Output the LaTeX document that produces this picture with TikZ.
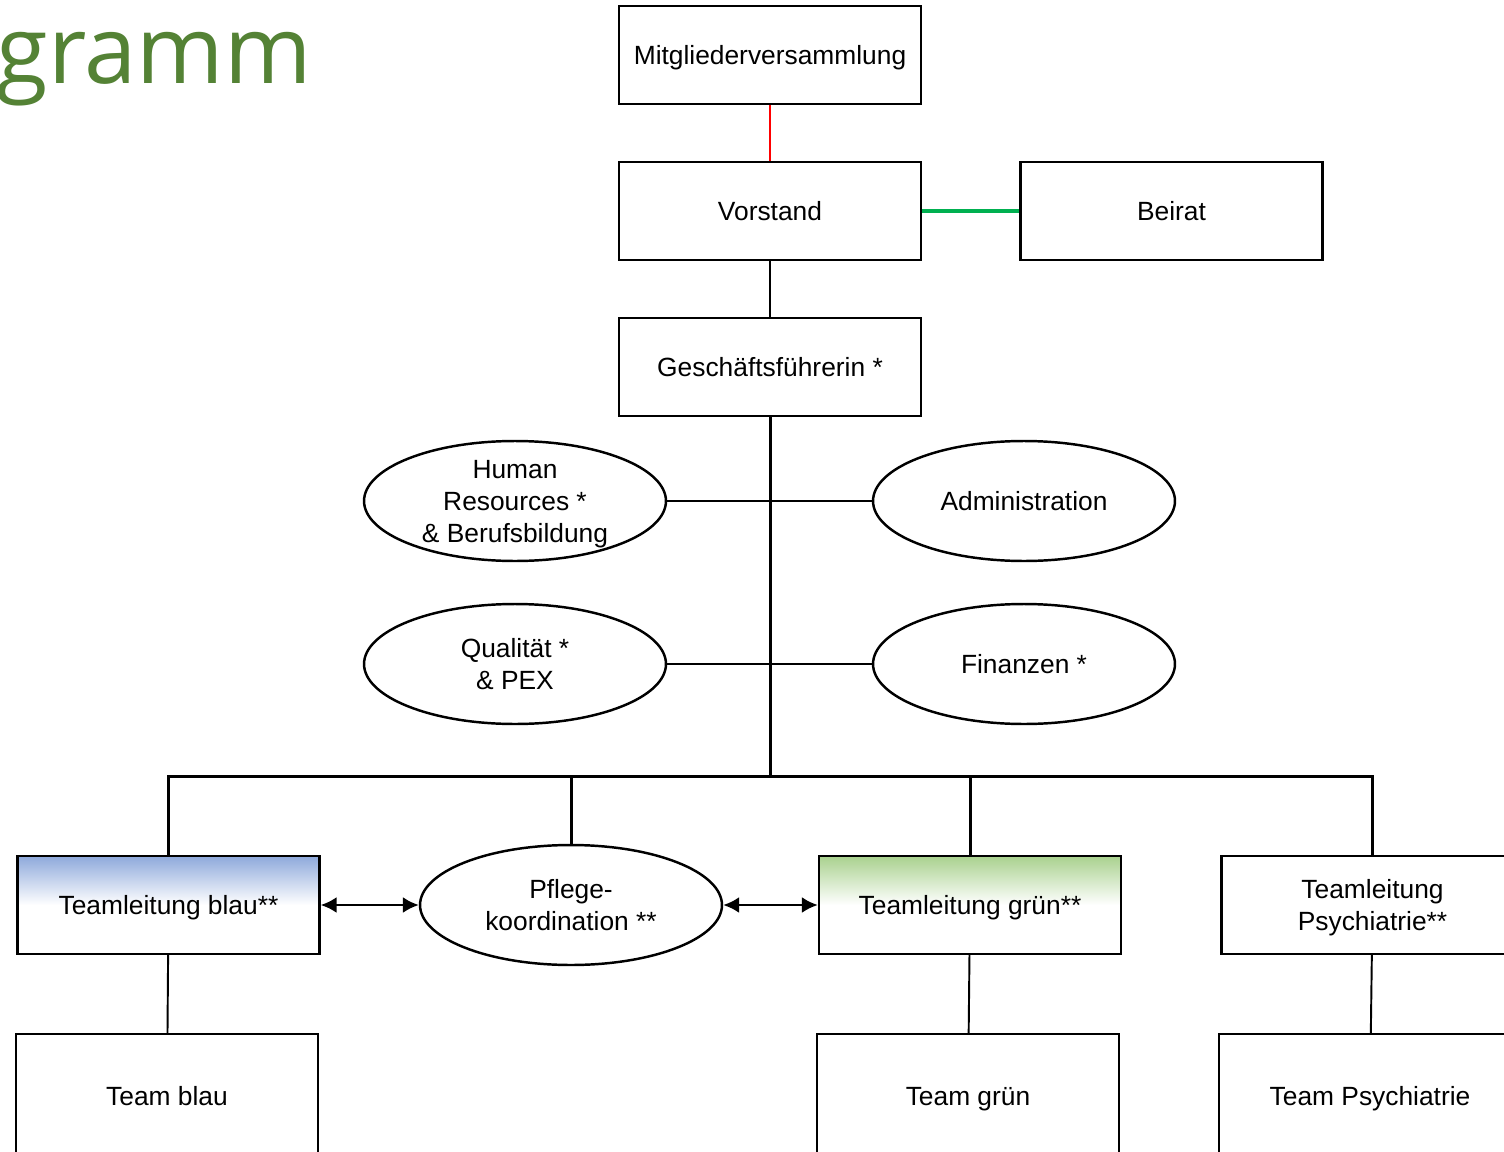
\documentclass[tikz,border=0pt]{standalone}
\usepackage{fontspec}
\setmainfont{Liberation Sans}
\newfontfamily\titlefont{Open Sans}
\usetikzlibrary{shapes.geometric,arrows.meta}
\definecolor{titelgruen}{RGB}{84,130,53}
\definecolor{linkgruen}{RGB}{0,176,80}
\definecolor{blautop}{RGB}{142,169,219}
\definecolor{gruentop}{RGB}{169,209,142}
\newcommand{\oben}{\rule{0pt}{14pt}}
\newcommand{\unten}{\rule[-3.5pt]{0pt}{3.5pt}}
\begin{document}
\begin{tikzpicture}[x=0.02cm, y=-0.02cm,
  font=\fontsize{15}{18.2}\selectfont,
  box/.style={draw, line width=1.4pt, minimum width=6.04cm, minimum height=1.96cm, align=center, inner sep=0pt, execute at begin node=\oben, execute at end node=\unten},
  oval/.style={ellipse, box, minimum height=2.4cm},
  lang/.style={text depth=-1.5pt},
  link/.style={line width=1.1pt},
  trunk/.style={line width=1.7pt},
  tip/.style={{Latex[length=9pt,width=9pt]}-{Latex[length=9pt,width=9pt]}}]
\clip (0,0) rectangle (1504,1152);
\fill[white] (0,0) rectangle (1504,1152);
\node[anchor=base east, inner sep=0pt, text=titelgruen, font=\titlefont\fontsize{53.5}{53.5}\selectfont] (titel) at (312,84) {Organigramm};
% oben
\node[box] (mv) at (770,55) {Mitgliederversammlung};
\node[box] (vs) at (770,211) {Vorstand};
\node[box] (br) at (1171.5,211) {Beirat};
\node[box] (gf) at (770,367) {Geschäftsführerin *};
\draw[red, line width=1.1pt] (mv) -- (vs);
\draw[linkgruen, line width=1.8pt] (vs) -- (br);
\draw[line width=1.4pt] (vs) -- (gf);
% stab
\node[oval, lang, inner ysep=-3pt] (hr) at (515,501) {Human\\Resources *\\\& Berufsbildung};
\node[oval] (adm) at (1024,501) {Administration};
\node[oval, lang] (qp) at (515,664) {Qualität *\\\& PEX};
\node[oval] (fin) at (1024,664) {Finanzen *};
\coordinate (bus) at (770,776);
\draw[trunk] (gf) -- (bus);
\draw[line width=1.4pt] (hr) -- (adm);
\draw[line width=1.4pt] (qp) -- (fin);
% teams
\node[box, top color=blautop, bottom color=white, middle color=white] (tlb) at (168.5,905) {Teamleitung blau**};
\node[oval, lang] (pk) at (571,905) {Pflege-\\koordination **};
\node[box, top color=gruentop, bottom color=white, middle color=white] (tlg) at (970,905) {Teamleitung grün**};
\node[box, lang] (tlp) at (1372.5,905) {Teamleitung\\Psychiatrie**};
\node[box, minimum height=2.48cm] (tb) at (167,1096) {Team blau};
\node[box, minimum height=2.48cm] (tg) at (968,1096) {Team grün};
\node[box, minimum height=2.48cm] (tp) at (1370,1096) {Team Psychiatrie};
\draw[trunk] (tlb.north) |- (bus);
\draw[trunk] (pk.north) |- (bus);
\draw[trunk] (tlg.north) |- (bus);
\draw[trunk] (tlp.north) |- (bus);
\draw[line width=1.4pt, tip] (tlb) -- (pk);
\draw[line width=1.4pt, tip] (pk) -- (tlg);
\draw[link] (tlb) -- (tb);
\draw[link] (tlg) -- (tg);
\draw[link] (tlp) -- (tp);
\end{tikzpicture}
\end{document}
